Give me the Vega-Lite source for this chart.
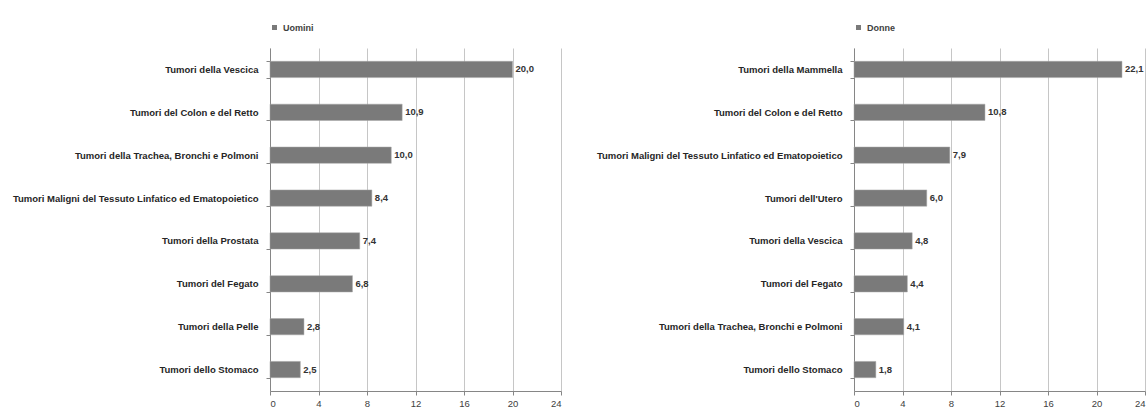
{
  "$schema": "https://vega.github.io/schema/vega-lite/v6.json",
  "background": "white",
  "padding": {"left": 12, "top": 23, "right": 0, "bottom": 0},
  "bounds": "flush",
  "spacing": 293,
  "resolve": {"scale": {"color": "independent"}, "legend": {"color": "independent"}},
  "config": {
    "locale": {"number": {"decimal": ",", "thousands": ".", "grouping": [3], "currency": ["", " €"]}},
    "font": "Liberation Sans",
    "view": {"stroke": null},
    "axisX": {"domainColor": "#868686", "tickColor": "#868686", "tickSize": 4, "gridColor": "#c6c6c6", "labelFontSize": 9.5, "labelColor": "#404040", "labelPadding": 3, "title": null},
    "axisY": {"domainColor": "#868686", "tickColor": "#868686", "tickSize": 4, "tickBand": "extent", "grid": false, "labelFontSize": 9.5, "labelFontWeight": "bold", "labelColor": "#262626", "labelPadding": 8, "labelLimit": 400, "minExtent": 258, "maxExtent": 258, "title": null},
    "legend": {"orient": "top", "title": null, "symbolType": "square", "symbolSize": 25, "labelFontSize": 9, "labelFontWeight": "bold", "labelColor": "#404040", "offset": 15, "padding": 0, "symbolStrokeWidth": 0}
  },
  "hconcat": [
    {
      "width": 291,
      "height": 343,
      "data": {"values": [
        {"sesso": "Uomini", "tumore": "Tumori della Vescica", "valore": 20.0},
        {"sesso": "Uomini", "tumore": "Tumori del Colon e del Retto", "valore": 10.9},
        {"sesso": "Uomini", "tumore": "Tumori della Trachea, Bronchi e Polmoni", "valore": 10.0},
        {"sesso": "Uomini", "tumore": "Tumori Maligni del Tessuto Linfatico ed Ematopoietico", "valore": 8.4},
        {"sesso": "Uomini", "tumore": "Tumori della Prostata", "valore": 7.4},
        {"sesso": "Uomini", "tumore": "Tumori del Fegato", "valore": 6.8},
        {"sesso": "Uomini", "tumore": "Tumori della Pelle", "valore": 2.8},
        {"sesso": "Uomini", "tumore": "Tumori dello Stomaco", "valore": 2.5}
      ]},
      "encoding": {
        "y": {"field": "tumore", "type": "nominal", "sort": "-x", "scale": {"paddingInner": 0.62, "paddingOuter": 0.31}},
        "x": {"field": "valore", "type": "quantitative", "scale": {"domain": [0, 24], "nice": false}, "axis": {"values": [0, 4, 8, 12, 16, 20, 24], "format": "d"}}
      },
      "layer": [
        {"mark": {"type": "bar", "stroke": "#a6a6a6", "strokeWidth": 0.5},
         "encoding": {"color": {"field": "sesso", "type": "nominal", "scale": {"range": ["#7a7a7a"]}}}},
        {"mark": {"type": "text", "align": "left", "dx": 3, "fontSize": 9.5, "fontWeight": "bold", "color": "#333333"},
         "encoding": {"text": {"field": "valore", "type": "quantitative", "format": ".1f"}}}
      ]
    },
    {
      "width": 291,
      "height": 343,
      "data": {"values": [
        {"sesso": "Donne", "tumore": "Tumori della Mammella", "valore": 22.1},
        {"sesso": "Donne", "tumore": "Tumori del Colon e del Retto", "valore": 10.8},
        {"sesso": "Donne", "tumore": "Tumori Maligni del Tessuto Linfatico ed Ematopoietico", "valore": 7.9},
        {"sesso": "Donne", "tumore": "Tumori dell'Utero", "valore": 6.0},
        {"sesso": "Donne", "tumore": "Tumori della Vescica", "valore": 4.8},
        {"sesso": "Donne", "tumore": "Tumori del Fegato", "valore": 4.4},
        {"sesso": "Donne", "tumore": "Tumori della Trachea, Bronchi e Polmoni", "valore": 4.1},
        {"sesso": "Donne", "tumore": "Tumori dello Stomaco", "valore": 1.8}
      ]},
      "encoding": {
        "y": {"field": "tumore", "type": "nominal", "sort": "-x", "scale": {"paddingInner": 0.62, "paddingOuter": 0.31}},
        "x": {"field": "valore", "type": "quantitative", "scale": {"domain": [0, 24], "nice": false}, "axis": {"values": [0, 4, 8, 12, 16, 20, 24], "format": "d", "labelFlush": true}}
      },
      "layer": [
        {"mark": {"type": "bar", "stroke": "#a6a6a6", "strokeWidth": 0.5},
         "encoding": {"color": {"field": "sesso", "type": "nominal", "scale": {"range": ["#7a7a7a"]}}}},
        {"mark": {"type": "text", "align": "left", "dx": 3, "fontSize": 9.5, "fontWeight": "bold", "color": "#333333"},
         "encoding": {"text": {"field": "valore", "type": "quantitative", "format": ".1f"}}}
      ]
    }
  ]
}
